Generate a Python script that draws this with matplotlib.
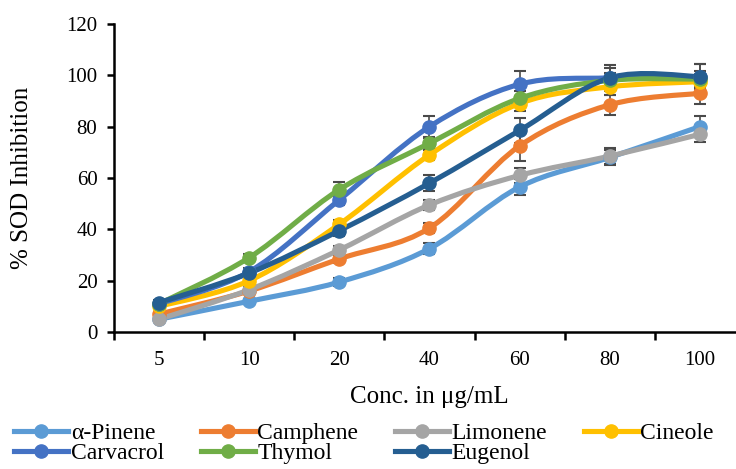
import matplotlib
matplotlib.use("Agg")
import matplotlib.pyplot as plt
from matplotlib.path import Path
from matplotlib.patches import PathPatch
from matplotlib.lines import Line2D
import numpy as np

# data
conc_labels = ["5", "10", "20", "40", "60", "80", "100"]
series_names = ["α-Pinene", "Camphene", "Limonene", "Cineole", "Carvacrol", "Thymol", "Eugenol"]

pinene = [5, 12, 19.5, 32.5, 56.5, 68, 80]
camphene = [7, 16, 28.5, 40.5, 72.5, 88.5, 93]
limonene = [5, 16.5, 32, 49.5, 61, 68.5, 77]
cineole = [10, 20, 42, 69, 89, 95.5, 97.5]
carvacrol = [11, 23.5, 51.5, 80, 96.5, 99, 99.5]
thymol = [11, 29, 55.5, 73.5, 91, 98, 98.5]
eugenol = [11.5, 23, 39.5, 58, 78.5, 99, 99.5]

pinene_err = [1, 1, 1.5, 2, 3, 3, 4]
camphene_err = [1, 1, 1.5, 2, 6, 4, 4]
limonene_err = [1, 1, 1.5, 2, 3, 3, 3]
cineole_err = [1, 1, 1.5, 2, 3, 3, 3]
carvacrol_err = [1, 1.5, 2, 4, 5, 4, 5]
thymol_err = [1, 1.5, 3, 2, 3, 3, 3]
eugenol_err = [1, 1.5, 2, 3, 5, 5, 5]

colors = ["#5B9BD5", "#ED7D31", "#A5A5A5", "#FFC000", "#4472C4", "#70AD47", "#255E91"]

values = [pinene, camphene, limonene, cineole, carvacrol, thymol, eugenol]
errors = [pinene_err, camphene_err, limonene_err, cineole_err, carvacrol_err, thymol_err, eugenol_err]

plt.rcParams["font.family"] = ["Liberation Serif", "DejaVu Serif"]

LW = 3.7
MS = 9.5


def smooth_path(x, y):
    """Excel-like smoothed line: cubic Bezier through every point"""
    pts = np.column_stack([x, y]).astype(float)
    n = len(pts)
    verts = [pts[0]]
    codes = [Path.MOVETO]
    for i in range(n - 1):
        p0 = pts[i - 1] if i > 0 else pts[i]
        p1 = pts[i]
        p2 = pts[i + 1]
        p3 = pts[i + 2] if i + 2 < n else pts[i + 1]
        c1 = p1 + (p2 - p0) / 6.0
        c2 = p2 - (p3 - p1) / 6.0
        verts += [c1, c2, p2]
        codes += [Path.CURVE4] * 3
    return Path(verts, codes)


fig = plt.figure(figsize=(7.36, 4.69), dpi=100)
ax = fig.add_axes([0.155, 0.292, 0.857, 0.657])

x = np.arange(len(conc_labels))
for name, vals, err, col in zip(series_names, values, errors, colors):
    ax.errorbar(x, vals, yerr=err, fmt="none", ecolor="#4a4a4a",
                elinewidth=1.2, capsize=4, capthick=1.5, zorder=2)
    ax.add_patch(PathPatch(smooth_path(x, vals), facecolor="none",
                           edgecolor=col, lw=LW, capstyle="round", zorder=3))
    ax.plot(x, vals, linestyle="none", marker="o", markersize=MS,
            color=col, zorder=4)

ax.set_xlim(-0.5, len(conc_labels) - 0.5)
ax.set_ylim(0, 120)
ax.set_yticks(range(0, 121, 20))
ax.set_xticks(x)
ax.set_xticklabels(conc_labels)
ax.set_xticks(np.arange(-0.5, len(conc_labels), 1.0), minor=True)

for side in ["top", "right"]:
    ax.spines[side].set_visible(False)
for side in ["left", "bottom"]:
    ax.spines[side].set_linewidth(1.8)

ax.tick_params(axis="x", which="major", length=0, pad=14, labelsize=15)
ax.tick_params(axis="x", which="minor", length=6, width=1.8, direction="out")
ax.tick_params(axis="y", length=5, width=1.8, direction="out", pad=7, labelsize=15)

ax.set_xlabel("Conc. in μg/mL", fontsize=18, labelpad=11)
ax.set_ylabel("% SOD Inhibition", fontsize=18, labelpad=24)

handles = [Line2D([], [], color=c, lw=LW, marker="o", markersize=MS) for c in colors]
order = [0, 4, 1, 5, 2, 6, 3]
leg = fig.legend([handles[i] for i in order], [series_names[i] for i in order],
                 loc="lower left", bbox_to_anchor=(0.0, -0.02), ncol=4,
                 frameon=False, fontsize=17, handlelength=2.3, handletextpad=0.1,
                 columnspacing=1.55, labelspacing=-0.05, borderaxespad=0.2)

fig.savefig("out.png", dpi=100)
